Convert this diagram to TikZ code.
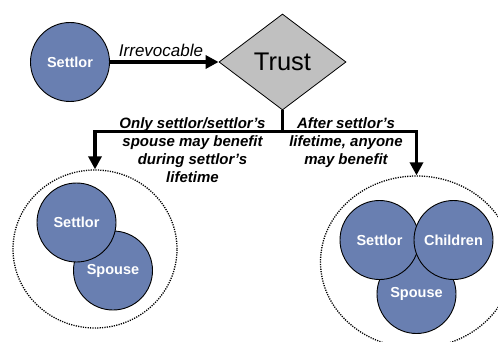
\documentclass[tikz,border=0pt]{standalone}
\usepackage{fontspec}
\setmainfont{Liberation Sans}
\usetikzlibrary{shapes.geometric,arrows.meta}
\definecolor{circblue}{RGB}{105,127,177}
\definecolor{trustgray}{RGB}{192,192,192}
\begin{document}
\begin{tikzpicture}[x=1pt,y=-1pt,
  person/.style={circle,draw=black,line width=0.9pt,fill=circblue,minimum size=79pt,inner sep=0pt,text=white,font=\fontsize{14.5}{17}\selectfont\bfseries},
  group/.style={ellipse,draw=black,line width=1.3pt,dash pattern=on 1.2pt off 1.2pt,inner sep=0pt},
  flow/.style={line width=3.5pt,-{Triangle[length=13pt,width=13pt]}},
  trunk/.style={line width=3.5pt},
  branchlabel/.style={align=center,inner sep=0pt,anchor=north,font=\fontsize{15}{18}\selectfont\bfseries\itshape}
]
\useasboundingbox (0,0) rectangle (498,342);

% top
\node[person] (settlor) at (70,62) {Settlor};
\node[diamond,draw=black,line width=0.8pt,fill=trustgray,minimum width=127pt,minimum height=96pt,inner sep=0pt,font=\fontsize{25.5}{30}\selectfont] (trust) at (282.5,62) {Trust};
\draw[flow] (settlor.east) -- (trust.west);
\node[anchor=base,inner sep=0pt,font=\fontsize{17}{20}\selectfont\itshape] (irrev) at (161,57) {Irrevocable};

% groups
\node[group,minimum width=164pt,minimum height=158pt] (lgroup) at (95,249) {};
\node[group,minimum width=192pt,minimum height=172pt] (rgroup) at (416.5,262) {};

\node[person] (lspouse) at (113,270.5) {Spouse};
\node[person] (lsettlor) at (76.5,222.5) {Settlor};

\node[person] (rspouse) at (416.5,294) {Spouse};
\node[person] (rsettlor) at (379.5,240) {Settlor};
\node[person] (rchildren) at (453.5,240) {Children};

% branches
\coordinate (split) at (282.5,131.5);
\draw[trunk] (trust.south) -- (split);
\draw[flow] (split) -| (lgroup.north);
\draw[flow] (split) -| (rgroup.north);

\node[branchlabel] (llabel) at (192.5,117) {Only settlor/settlor’s\\spouse may benefit\\during settlor’s\\lifetime};
\node[branchlabel] (rlabel) at (346,117) {After settlor’s\\lifetime, anyone\\may benefit};
\end{tikzpicture}
\end{document}
